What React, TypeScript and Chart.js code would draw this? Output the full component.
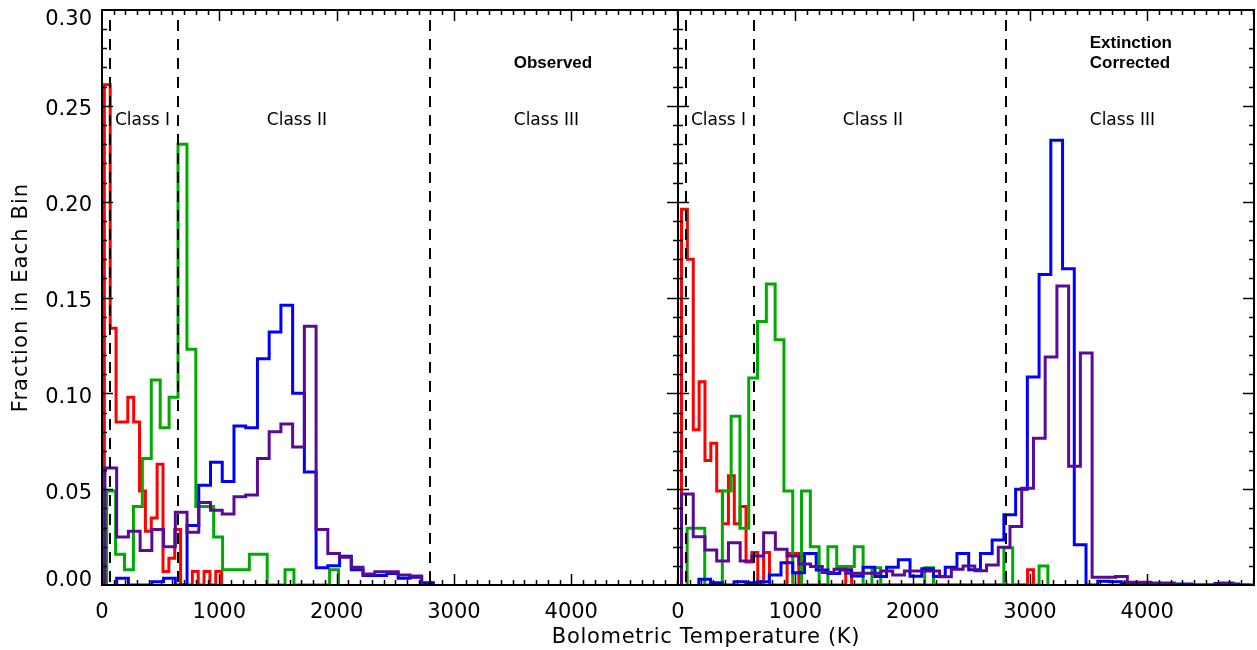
import React, { useEffect, useRef } from "react";
import { Chart, registerables } from "chart.js";

Chart.register(...registerables);

// ---------- axes / text ----------
const T_MAX = 4910;
const X_TICK_VALUES = [0, 1000, 2000, 3000, 4000];
const X_TICK_LABELS = ["0", "1000", "2000", "3000", "4000"];
const Y_TICK_VALUES = [0, 0.05, 0.1, 0.15, 0.2, 0.25, 0.3];
const Y_TICK_LABELS = ["0.00", "0.05", "0.10", "0.15", "0.20", "0.25", "0.30"];
const CLASS_BOUNDARIES = [70, 650, 2800];
const CLASS_NAMES = ["Class I", "Class II", "Class III"];
const CLASS_NAME_AT = [110, 1405, 3510];
const PANEL_NOTES = [["Observed"], ["Extinction", "Corrected"]];
const X_TITLE = "Bolometric Temperature (K)";
const Y_TITLE = "Fraction in Each Bin";

// ---------- Observed panel ----------
const OBS_RED_START = 20;
const OBS_RED_BIN = 50;
const OBS_RED = [0.261, 0.134, 0.085, 0.085, 0.098, 0.085, 0.049, 0.028, 0.035, 0.063,
  0.007, 0.014, 0.029, 0, 0, 0.007, 0, 0.007, 0, 0.007];

const OBS_GREEN_START = 40;
const OBS_GREEN_BIN = 76;
const OBS_GREEN = [0.049, 0.016, 0.008, 0.041, 0.066, 0.107, 0.082, 0.098, 0.23, 0.123,
  0.041, 0.041, 0.025, 0.008, 0.008, 0.008, 0.016, 0.016, 0, 0, 0.008, 0, 0, 0, 0, 0.008];

const OBS_BLUE_START = 125;
const OBS_BLUE_BIN = 100;
const OBS_BLUE = [0.0035, 0, 0, 0.0017, 0.0035, 0, 0.031, 0.052, 0.064, 0.054, 0.083, 0.082,
  0.118, 0.132, 0.146, 0.1, 0.059, 0.009, 0.01, 0.015, 0.008, 0.005, 0.005, 0.006, 0.0035,
  0.004, 0.0012];

const OBS_PURPLE_START = 25;
const OBS_PURPLE_BIN = 100;
const OBS_PURPLE = [0.061, 0.025, 0.028, 0.018, 0.029, 0.02, 0.038, 0.0275, 0.043, 0.039,
  0.037, 0.046, 0.047, 0.066, 0.08, 0.084, 0.072, 0.135, 0.029, 0.0165, 0.0145, 0.0092,
  0.0057, 0.0069, 0.0069, 0.0052, 0.0047];

// ---------- Extinction corrected panel ----------
const COR_RED_START = 30;
const COR_RED_BIN = 50;
const COR_RED = [0.196, 0.17, 0.081, 0.106, 0.065, 0.074, 0.049, 0.032, 0.057, 0.032,
  0.041, 0.012, 0.017, 0, 0.017, 0, 0, 0, 0.0165, 0.0165,
  0, 0, 0, 0, 0, 0, 0, 0, 0.008, 0,
  0, 0, 0, 0, 0, 0, 0, 0, 0, 0,
  0, 0, 0, 0, 0, 0, 0, 0, 0, 0,
  0, 0, 0, 0, 0, 0, 0, 0, 0, 0.008];

const COR_GREEN_START = 78;
const COR_GREEN_BIN = 75;
const COR_GREEN = [0.0296, 0.0296, 0, 0, 0.049, 0.088, 0.0296, 0.108, 0.1375, 0.157,
  0.128, 0.049, 0, 0.049, 0.02, 0, 0.02, 0.0096, 0.0096, 0.02,
  0, 0.009, 0, 0, 0, 0, 0, 0.009, 0, 0,
  0, 0, 0, 0, 0, 0, 0.0195, 0, 0, 0, 0.0099];

const COR_BLUE_START = 178;
const COR_BLUE_BIN = 100;
const COR_BLUE = [0.003, 0.0012, 0, 0.0017, 0.0012, 0.0017, 0.0052, 0.0116, 0.0064, 0.0165,
  0.0078, 0.006, 0.0078, 0.0047, 0.0092, 0.0045, 0.0092, 0.0132, 0.0046, 0.0085,
  0.0045, 0.0092, 0.0165, 0.008, 0.0165, 0.0235, 0.0366, 0.05, 0.1085, 0.162,
  0.232, 0.165, 0.021, 0, 0.002, 0.0017, 0.001, 0.001, 0.0005, 0,
  0.0005, 0.0005, 0, 0, 0.0008, 0.0005, 0];

const COR_PURPLE_START = 30;
const COR_PURPLE_BIN = 100;
const COR_PURPLE = [0.0475, 0.0252, 0.0183, 0.0125, 0.0221, 0.0125, 0.0151, 0.0273, 0.0186, 0.0151,
  0.011, 0.0096, 0.0065, 0.0082, 0.0061, 0.0061, 0.0061, 0.0073, 0.0052, 0.0073,
  0.0073, 0.0073, 0.0043, 0.0082, 0.0099, 0.0075, 0.0104, 0.0197, 0.0305, 0.0505,
  0.0766, 0.119, 0.156, 0.062, 0.121, 0.004, 0.004, 0.0045, 0.0015, 0.0015,
  0.001, 0.001, 0, 0, 0, 0, 0.001, 0, 0];

const RED = "#ff0000";
const GREEN = "#00aa00";
const BLUE = "#0000ff";
const PURPLE = "#5a0a96";

const SERIES = [
  { axis: "x1", color: RED, start: OBS_RED_START, bin: OBS_RED_BIN, values: OBS_RED, order: 4 },
  { axis: "x1", color: GREEN, start: OBS_GREEN_START, bin: OBS_GREEN_BIN, values: OBS_GREEN, order: 3 },
  { axis: "x1", color: BLUE, start: OBS_BLUE_START, bin: OBS_BLUE_BIN, values: OBS_BLUE, order: 2 },
  { axis: "x1", color: PURPLE, start: OBS_PURPLE_START, bin: OBS_PURPLE_BIN, values: OBS_PURPLE, order: 1 },
  { axis: "x2", color: RED, start: COR_RED_START, bin: COR_RED_BIN, values: COR_RED, order: 4 },
  { axis: "x2", color: GREEN, start: COR_GREEN_START, bin: COR_GREEN_BIN, values: COR_GREEN, order: 3 },
  { axis: "x2", color: BLUE, start: COR_BLUE_START, bin: COR_BLUE_BIN, values: COR_BLUE, order: 2 },
  { axis: "x2", color: PURPLE, start: COR_PURPLE_START, bin: COR_PURPLE_BIN, values: COR_PURPLE, order: 1 },
];

function histogramOutline(start: number, bin: number, values: number[]) {
  const pts: { x: number; y: number }[] = [{ x: start, y: 0 }];
  values.forEach((v, i) => {
    pts.push({ x: start + i * bin, y: v });
    pts.push({ x: start + (i + 1) * bin, y: v });
  });
  pts.push({ x: start + values.length * bin, y: 0 });
  return pts;
}

const FONT = '"DejaVu Sans", sans-serif';
const BOLD_FONT = '"Liberation Sans", Arial, sans-serif';

const decorations = {
  id: "decorations",
  afterDatasetsDraw(chart: any) {
    const ctx: CanvasRenderingContext2D = chart.ctx;
    const area = chart.chartArea;
    const ys = chart.scales.y;
    const panels = [chart.scales.x1, chart.scales.x2];
    const line = (x1: number, y1: number, x2: number, y2: number) => {
      ctx.beginPath();
      ctx.moveTo(x1, y1);
      ctx.lineTo(x2, y2);
      ctx.stroke();
    };
    ctx.save();
    ctx.strokeStyle = "#000";
    ctx.fillStyle = "#000";

    // class boundaries (dashed)
    ctx.lineWidth = 2;
    ctx.setLineDash([11, 8]);
    for (const sx of panels) {
      for (const t of CLASS_BOUNDARIES) {
        const px = Math.round(sx.getPixelForValue(t));
        line(px, area.top + 10, px, area.bottom);
      }
    }
    ctx.setLineDash([]);

    // frame
    ctx.lineWidth = 2;
    ctx.strokeRect(area.left, area.top, area.right - area.left, area.bottom - area.top);
    const mid = Math.round(panels[1].getPixelForValue(0));
    line(mid, area.top, mid, area.bottom);

    // x ticks (top & bottom, inward)
    ctx.lineWidth = 1.5;
    for (const sx of panels) {
      for (let t = 0; t <= T_MAX; t += 100) {
        if (t === 0) continue;
        const px = Math.round(sx.getPixelForValue(t)) + 0.5;
        const len = t % 1000 === 0 ? 11 : 5;
        line(px, area.bottom, px, area.bottom - len);
        line(px, area.top, px, area.top + len);
      }
    }
    // y ticks: left axis, middle axis (both sides), right axis
    for (let i = 1; i < 30; i++) {
      const py = Math.round(ys.getPixelForValue(i / 100)) + 0.5;
      const len = i % 5 === 0 ? 11 : 5;
      line(area.left, py, area.left + len, py);
      line(mid - len, py, mid + len, py);
      line(area.right - len, py, area.right, py);
    }

    // tick labels
    ctx.font = `21px ${FONT}`;
    ctx.textBaseline = "alphabetic";
    ctx.textAlign = "center";
    for (const sx of panels) {
      X_TICK_VALUES.forEach((t, i) => {
        ctx.fillText(X_TICK_LABELS[i], sx.getPixelForValue(t), area.bottom + 33);
      });
    }
    ctx.textAlign = "right";
    Y_TICK_VALUES.forEach((v, i) => {
      const py = ys.getPixelForValue(v);
      const base = Math.min(Math.max(py + 9.5, area.top + 15), area.bottom + 1);
      ctx.fillText(Y_TICK_LABELS[i], area.left - 10, base);
    });

    // axis titles
    (ctx as any).letterSpacing = "0.7px";
    ctx.textAlign = "center";
    ctx.fillText(X_TITLE, 706, area.bottom + 58);
    (ctx as any).letterSpacing = "1.1px";
    ctx.save();
    ctx.translate(27, (area.top + area.bottom) / 2);
    ctx.rotate(-Math.PI / 2);
    ctx.fillText(Y_TITLE, 0, 0);
    ctx.restore();
    (ctx as any).letterSpacing = "0px";

    // class names
    ctx.font = `17px ${FONT}`;
    ctx.textAlign = "left";
    for (const sx of panels) {
      CLASS_NAMES.forEach((name, i) => {
        ctx.fillText(name, sx.getPixelForValue(CLASS_NAME_AT[i]), ys.getPixelForValue(0.24));
      });
    }
    // panel notes
    ctx.font = `bold 17px ${BOLD_FONT}`;
    panels.forEach((sx, p) => {
      const notes = PANEL_NOTES[p];
      notes.forEach((txt, j) => {
        const v = 0.27 + (notes.length - 1 - j) * 0.01;
        ctx.fillText(txt, sx.getPixelForValue(3510), ys.getPixelForValue(v));
      });
    });
    ctx.restore();
  },
};

export default function App() {
  const canvasRef = useRef<HTMLCanvasElement | null>(null);
  useEffect(() => {
    if (!canvasRef.current) return;
    const hiddenScale = {
      type: "linear" as const,
      display: true,
      ticks: { display: false },
      grid: { display: false, drawTicks: false },
      border: { display: false },
    };
    const chart = new Chart(canvasRef.current, {
      type: "line",
      data: {
        datasets: SERIES.map((s) => ({
          data: histogramOutline(s.start, s.bin, s.values),
          xAxisID: s.axis,
          yAxisID: "y",
          borderColor: s.color,
          backgroundColor: s.color,
          borderWidth: 3,
          pointRadius: 0,
          tension: 0,
          fill: false,
          order: s.order,
          borderJoinStyle: "miter" as const,
          borderCapStyle: "butt" as const,
        })),
      },
      options: {
        animation: false,
        responsive: true,
        maintainAspectRatio: false,
        parsing: false as any,
        layout: { padding: { left: 102, right: 3, top: 10, bottom: 65 } },
        plugins: { legend: { display: false }, tooltip: { enabled: false }, title: { display: false } },
        scales: {
          x1: { ...hiddenScale, position: "bottom", stack: "panels", stackWeight: 1, min: 0, max: T_MAX },
          x2: { ...hiddenScale, position: "bottom", stack: "panels", stackWeight: 1, min: 0, max: T_MAX },
          y: { ...hiddenScale, position: "left", min: 0, max: 0.3 },
        },
      },
      plugins: [decorations],
    });
    return () => chart.destroy();
  }, []);
  return (
    <div style={{ position: "fixed", left: 0, top: 0, width: 1257, height: 650, background: "#fff" }}>
      <canvas ref={canvasRef} />
    </div>
  );
}
